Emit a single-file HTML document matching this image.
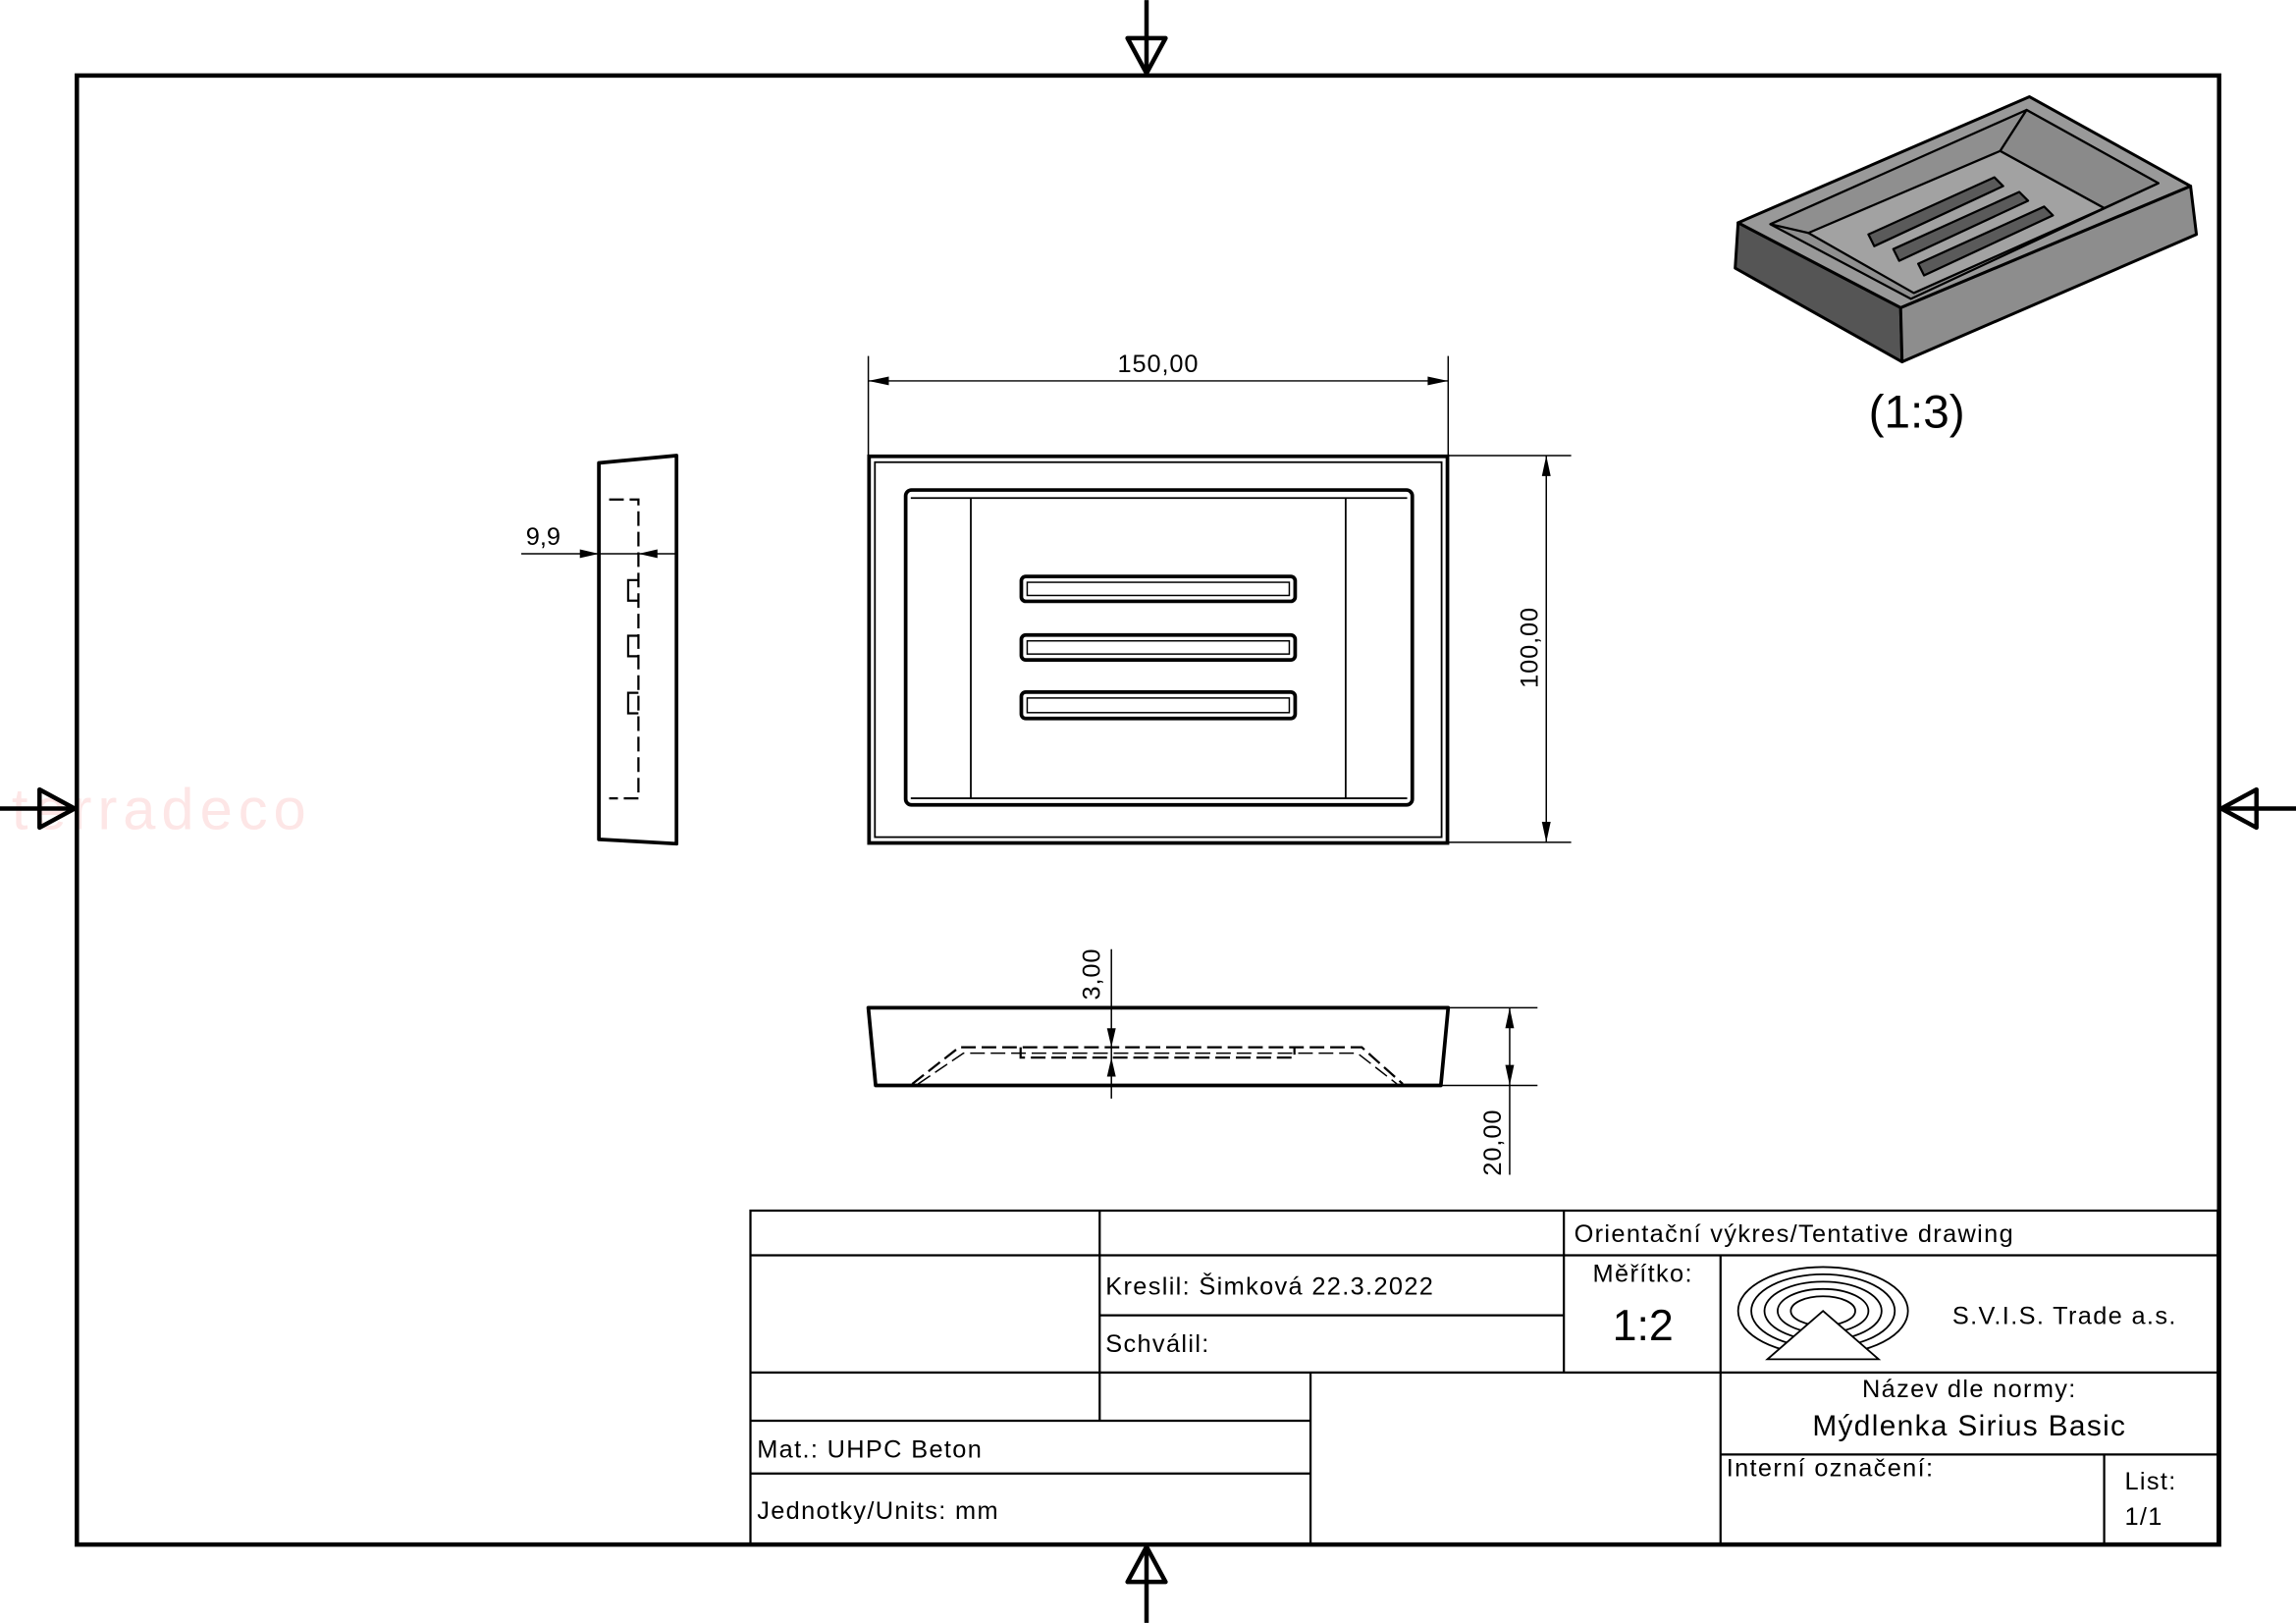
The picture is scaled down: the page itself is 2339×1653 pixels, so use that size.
<!DOCTYPE html>
<html><head><meta charset="utf-8"><style>
html,body{margin:0;padding:0;background:#fff;}
svg{display:block;}
text{font-family:"Liberation Sans Narrow","Liberation Sans",sans-serif;fill:#000;}
</style></head><body>
<svg width="2339" height="1653" viewBox="0 0 1568 1108" xmlns="http://www.w3.org/2000/svg">
<rect width="1568" height="1108" fill="#fff"/>
<text x="8" y="566" font-size="40" letter-spacing="4" style="fill:#fde6e6">terradeco</text>
<rect x="52.5" y="51.5" width="1463" height="1003" fill="none" stroke="#000" stroke-width="3"/>
<g stroke="#000" stroke-width="3" fill="none" stroke-linejoin="round">
<line x1="783" y1="0" x2="783" y2="51"/><polygon points="770,26 796,26 783,50"/>
<line x1="783" y1="1055" x2="783" y2="1108"/><polygon points="770,1080 796,1080 783,1056"/>
<line x1="0" y1="552" x2="52" y2="552"/><polygon points="27,539 27,565 51,552"/>
<line x1="1516" y1="552" x2="1568" y2="552"/><polygon points="1541,539 1541,565 1517,552"/>
</g>
<!-- iso view -->
<g stroke="#000" stroke-width="2" stroke-linejoin="round">
<polygon points="1187,152 1298,210 1299,247 1185,183" fill="#555"/>
<polygon points="1298,210 1496,127 1500,160 1299,247" fill="#8d8d8d"/>
<polygon points="1187,152 1386,66 1496,127 1298,210" fill="#999"/>
<polygon points="1209,153 1384,75 1474,125 1305,204" fill="#8f8f8f" stroke-width="1.5"/>
<polygon points="1235,159 1366,103 1437,142 1307,200" fill="#a2a2a2" stroke-width="1.5"/>
<line x1="1384" y1="75" x2="1366" y2="103" stroke-width="1.5"/>
<line x1="1209" y1="153" x2="1235" y2="159" stroke-width="1.5"/>
<polygon points="1384,75 1474,125 1437,142 1366,103" fill="#8a8a8a" stroke-width="1.5"/>
<g fill="#5a5a5a" stroke-width="1.5">
<polygon points="1276,160 1362,121 1368,127 1280,168"/>
<polygon points="1293,170 1379,131 1385,137 1297,178"/>
<polygon points="1310,180 1396,141 1402,147 1314,188"/>
</g>
</g>
<text x="1309" y="292" font-size="32" text-anchor="middle">(1:3)</text>
<!-- front view -->
<g stroke="#000" fill="none">
<rect x="593.5" y="311.5" width="395" height="264" stroke-width="2.5"/>
<rect x="597.5" y="315.5" width="387" height="256" stroke-width="1.2"/>
<rect x="618.5" y="334.5" width="346" height="215" rx="4" stroke-width="2.5"/>
<line x1="663" y1="340" x2="663" y2="545" stroke-width="1.2"/>
<line x1="919" y1="340" x2="919" y2="545" stroke-width="1.2"/>
<line x1="622" y1="340" x2="961" y2="340" stroke-width="1.2"/>
<line x1="622" y1="545" x2="961" y2="545" stroke-width="1.2"/>
<rect x="697.5" y="393.5" width="187" height="17" rx="3" stroke-width="2.5"/>
<rect x="701.5" y="397.5" width="179" height="9" stroke-width="1"/>
<rect x="697.5" y="433.5" width="187" height="17" rx="3" stroke-width="2.5"/>
<rect x="701.5" y="437.5" width="179" height="9" stroke-width="1"/>
<rect x="697.5" y="472.5" width="187" height="18" rx="3" stroke-width="2.5"/>
<rect x="701.5" y="476.5" width="179" height="10" stroke-width="1"/>
<g stroke-width="1">
<line x1="593" y1="243" x2="593" y2="311"/><line x1="989" y1="243" x2="989" y2="311"/>
<line x1="593" y1="260" x2="989" y2="260"/>
<line x1="989" y1="311" x2="1073" y2="311"/><line x1="989" y1="575" x2="1073" y2="575"/>
<line x1="1056" y1="311" x2="1056" y2="575"/>
</g>
</g>
<g fill="#000">
<polygon points="593,260 607,257 607,263"/><polygon points="989,260 975,257 975,263"/>
<polygon points="1056,311 1053,325 1059,325"/><polygon points="1056,575 1053,561 1059,561"/>
</g>
<text x="791" y="254" font-size="17" letter-spacing="0.6" text-anchor="middle">150,00</text>
<text transform="translate(1050,442) rotate(-90)" font-size="17" letter-spacing="0.6" text-anchor="middle">100,00</text>
<!-- side view -->
<g stroke="#000" fill="none">
<polygon points="409,316 462,311 462,576 409,573" stroke-width="2.5" stroke-linejoin="round"/>
<polyline points="416,341 436,341 436,545 416,545" stroke-width="1.5" stroke-dasharray="10,4"/>
<g stroke-width="1.5">
<path d="M436,396 h-7 v14 h7 M436,434 h-7 v14 h7 M436,473 h-7 v14 h7"/>
</g>
<line x1="356" y1="378" x2="462" y2="378" stroke-width="1"/>
</g>
<polygon points="409,378 396,375 396,381" fill="#000"/><polygon points="436,378 449,375 449,381" fill="#000"/>
<text x="371" y="372" font-size="17" text-anchor="middle">9,9</text>
<!-- bottom view -->
<g stroke="#000" fill="none">
<polygon points="593,688 989,688 984,741 598,741" stroke-width="2.5" stroke-linejoin="round"/>
<polyline points="623,740 655,715 930,715 958,740" stroke-width="1.5" stroke-dasharray="10,4"/>
<polyline points="627,740 658,719 927,719 954,740" stroke-width="1" stroke-dasharray="10,4"/>
<polyline points="697,715 697,722 884,722 884,715" stroke-width="1.5" stroke-dasharray="10,4"/>
<g stroke-width="1">
<line x1="759" y1="648" x2="759" y2="750"/>
<line x1="989" y1="688" x2="1050" y2="688"/><line x1="984" y1="741" x2="1050" y2="741"/>
<line x1="1031" y1="688" x2="1031" y2="802"/>
</g>
</g>
<g fill="#000">
<polygon points="759,715 756,702 762,702"/><polygon points="759,722 756,735 762,735"/>
<polygon points="1031,688 1028,702 1034,702"/><polygon points="1031,741 1028,727 1034,727"/>
</g>
<text transform="translate(751,665) rotate(-90)" font-size="17" letter-spacing="0.6" text-anchor="middle">3,00</text>
<text transform="translate(1025,780) rotate(-90)" font-size="17" letter-spacing="0.6" text-anchor="middle">20,00</text>
<!-- title block -->
<g stroke="#000" stroke-width="1.5" fill="none">
<rect x="512.5" y="826.5" width="1002" height="228"/>
<line x1="512" y1="857" x2="1514" y2="857"/>
<line x1="751" y1="826" x2="751" y2="970"/>
<line x1="1068" y1="826" x2="1068" y2="937"/>
<line x1="751" y1="898" x2="1068" y2="898"/>
<line x1="1175" y1="857" x2="1175" y2="1054"/>
<line x1="512" y1="937" x2="1514" y2="937"/>
<line x1="895" y1="937" x2="895" y2="1054"/>
<line x1="512" y1="970" x2="895" y2="970"/>
<line x1="512" y1="1006" x2="895" y2="1006"/>
<line x1="1175" y1="993" x2="1514" y2="993"/>
<line x1="1437" y1="993" x2="1437" y2="1054"/>
</g>
<g font-size="17" letter-spacing="0.9">
<text x="1075" y="848">Orientační výkres/Tentative drawing</text>
<text x="1122" y="875" text-anchor="middle">Měřítko:</text>
<text x="1122" y="915" font-size="30" letter-spacing="0" text-anchor="middle">1:2</text>
<text x="755" y="884">Kreslil: Šimková 22.3.2022</text>
<text x="755" y="923">Schválil:</text>
<text x="1410" y="904" text-anchor="middle">S.V.I.S. Trade a.s.</text>
<text x="1345" y="954" text-anchor="middle">Název dle normy:</text>
<text x="1345" y="980" font-size="20" text-anchor="middle">Mýdlenka Sirius Basic</text>
<text x="1179" y="1008">Interní označení:</text>
<text x="1451" y="1017">List:</text>
<text x="1451" y="1041">1/1</text>
<text x="517" y="995">Mat.: UHPC Beton</text>
<text x="517" y="1037">Jednotky/Units: mm</text>
</g>
<g stroke="#000" stroke-width="1.2" fill="none">
<ellipse cx="1245" cy="895" rx="58" ry="30"/>
<ellipse cx="1245" cy="895" rx="49" ry="25"/>
<ellipse cx="1245" cy="895" rx="40" ry="20"/>
<ellipse cx="1245" cy="895" rx="31" ry="15"/>
<ellipse cx="1245" cy="895" rx="22" ry="10"/>
<polygon points="1245,895 1283,928 1207,928" fill="#fff"/>
</g>
</svg>
</body></html>
